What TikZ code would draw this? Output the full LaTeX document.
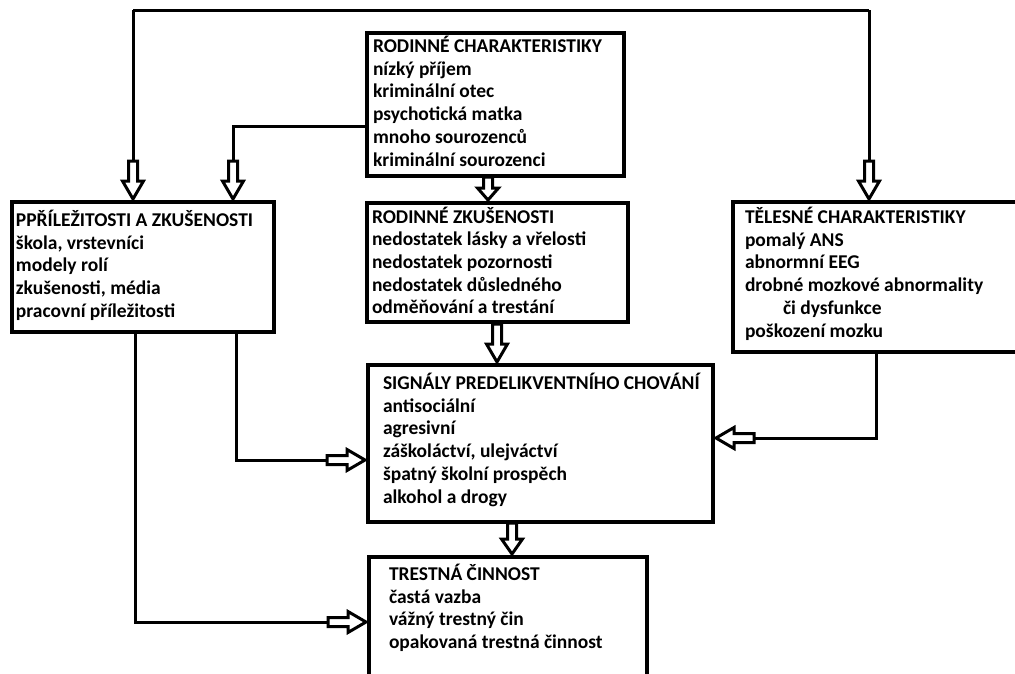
\documentclass[tikz,border=0pt]{standalone}
\usepackage{fontspec}
\setmainfont{Carlito}
\usetikzlibrary{calc}
% #1 name, #2 total length, #3 head length
\newcommand{\declblockarrow}[3]{%
\pgfdeclarearrow{
  name = #1,
  parameters = {},
  setup code = {
    \pgfarrowssettipend{0pt}
    \pgfarrowssetbackend{-#2pt}
    \pgfarrowssetlineend{-#2pt}
    \pgfarrowssetvisualbackend{-#2pt}
    \pgfarrowshullpoint{0pt}{0pt}
    \pgfarrowshullpoint{-#2pt}{11pt}
    \pgfarrowshullpoint{-#2pt}{-11pt}
  },
  drawing code = {
    \pgfsetmiterjoin
    \pgfpathmoveto{\pgfpoint{-#2pt}{4.5pt}}
    \pgfpathlineto{\pgfpoint{-#3pt}{4.5pt}}
    \pgfpathlineto{\pgfpoint{-#3pt}{10.5pt}}
    \pgfpathlineto{\pgfpoint{-3pt}{0pt}}
    \pgfpathlineto{\pgfpoint{-#3pt}{-10.5pt}}
    \pgfpathlineto{\pgfpoint{-#3pt}{-4.5pt}}
    \pgfpathlineto{\pgfpoint{-#2pt}{-4.5pt}}
    \pgfpathclose
    \pgfusepathqstroke
  }
}}
\declblockarrow{BlockOpen}{41}{21}
\declblockarrow{BlockMid}{34}{18}
\declblockarrow{BlockShort}{26}{15}
\tikzset{
  box/.style={draw, line width=3.5pt, inner sep=0pt, outer sep=0pt, anchor=north west},
  txt/.style={anchor=north west, inner sep=0pt, outer sep=0pt, align=left,
    font=\fontsize{19.5}{22.7}\selectfont\bfseries},
  conn/.style={line width=3pt, line join=miter},
  blk/.style={conn, -BlockOpen},
  blkmid/.style={conn, -BlockMid},
  blkshort/.style={conn, -BlockShort}
}
\newcommand{\fl}{\rule{0pt}{17pt}}
\begin{document}
\begin{tikzpicture}[x=1pt,y=-1pt]
\useasboundingbox (0,0) rectangle (1015,673);
\clip (0,0) rectangle (1015,673);
% boxes
\node[box, minimum width=257pt, minimum height=143pt] (rc) at (367,33) {};
\node[box, minimum width=262pt, minimum height=130pt] (po) at (12,202) {};
\node[box, minimum width=261pt, minimum height=119pt] (rz) at (367,203) {};
\node[box, minimum width=287pt, minimum height=150pt] (tc) at (733,202) {};
\node[box, minimum width=345pt, minimum height=157pt] (sp) at (368,365) {};
\node[box, minimum width=278pt, minimum height=133pt] (tr) at (369,557) {};
% texts
\node[txt] (rct) at (373,35.5) {\fl RODINNÉ CHARAKTERISTIKY\\nízký příjem\\kriminální otec\\psychotická matka\\mnoho sourozenců\\kriminální sourozenci};
\node[txt] (pot) at (16,209.5) {\fl PPŘÍLEŽITOSTI A ZKUŠENOSTI\\škola, vrstevníci\\modely rolí\\zkušenosti, média\\pracovní příležitosti};
\node[txt] (rzt) at (372,206) {\fl RODINNÉ ZKUŠENOSTI\\nedostatek lásky a vřelosti\\nedostatek pozornosti\\nedostatek důsledného\\odměňování a trestání};
\node[txt] (tct) at (745,206.5) {\fl TĚLESNÉ CHARAKTERISTIKY\\pomalý ANS\\abnormní EEG\\drobné mozkové abnormality\\\hspace*{38pt}či dysfunkce\\poškození mozku};
\node[txt] (spt) at (383,372.5) {\fl SIGNÁLY PREDELIKVENTNÍHO CHOVÁNÍ\\antisociální\\agresivní\\záškoláctví, ulejváctví\\špatný školní prospěch\\alkohol a drogy};
\node[txt] (trt) at (389,563.5) {\fl TRESTNÁ ČINNOST\\častá vazba\\vážný trestný čin\\opakovaná trestná činnost};
% helper coordinates
\coordinate (topL) at (133,10);
\coordinate (topR) at (869,10);
\coordinate (br) at (233,126);
\coordinate (x1) at (488,0);
\coordinate (x2) at (497,0);
\coordinate (x3) at (512,0);
\coordinate (d1) at (236,460);
\coordinate (d2) at (135,622);
\coordinate (d3) at (876,438);
% connectors
\draw[conn] (topL) -- (topR);
\draw[blk] (topL) -- (topL |- po.north);
\draw[blk] (topR) -- (topR |- tc.north);
\draw[blk] (br -| rc.west) -- (br) -- (br |- po.north);
\draw[blkshort] (x1 |- rc.south) -- (x1 |- rz.north);
\draw[blk] (x2 |- rz.south) -- (x2 |- sp.north);
\draw[blkmid] (x3 |- sp.south) -- (x3 |- tr.north);
\draw[blk] (d1 |- po.south) -- (d1) -- (d1 -| sp.west);
\draw[blk] (d2 |- po.south) -- (d2) -- (d2 -| tr.west);
\draw[blk] (d3 |- tc.south) -- (d3) -- (d3 -| sp.east);
\end{tikzpicture}
\end{document}
